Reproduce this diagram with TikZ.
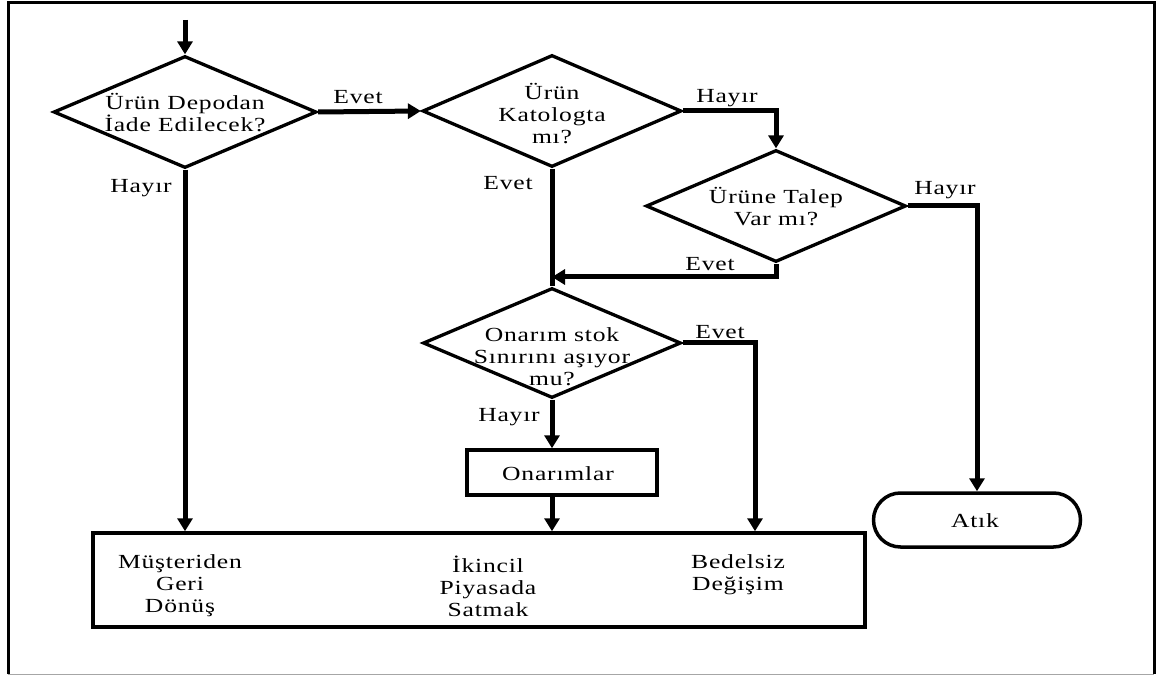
\documentclass[tikz,border=0pt]{standalone}
\usepackage{fontspec}
\setmainfont{Liberation Serif}[FakeStretch=1.28,LetterSpace=4]
\usetikzlibrary{arrows.meta,shapes.geometric}
\begin{document}
\begin{tikzpicture}[x=1pt,y=-1pt,
  every node/.style={font=\fontsize{20}{22}\selectfont},
  txt/.style={align=center,inner sep=0pt},
  dec/.style={draw,diamond,line width=3.3pt,inner sep=0pt,line join=miter},
  procbox/.style={draw,rectangle,line width=3.5pt,inner sep=0pt},
  flow/.style={line width=5pt,line join=miter,-{Triangle[length=13pt,width=15pt]}},
  link/.style={line width=5pt,line join=miter},
  frame/.style={line width=3pt,line join=miter}
]
\useasboundingbox (0,0) rectangle (1165,676);

% outer frame
\draw[frame] (8,674) -- (8,3) -- (1154,3) -- (1154,674);
\draw[gray!70,line width=1.2pt] (8,674.5) -- (1154,674.5);

% decisions
\node[dec,minimum width=263pt,minimum height=112pt] (d1) at (185,112) {};
\node[txt] (t1) at (185,113) {Ürün Depodan\\İade Edilecek?};

\node[dec,minimum width=259pt,minimum height=112pt] (d2) at (552,111) {};
\node[txt] (t2) at (552,114) {Ürün\\Katologta\\mı?};

\node[dec,minimum width=260pt,minimum height=112pt] (d3) at (776,206) {};
\node[txt] (t3) at (776,207) {Ürüne Talep\\Var mı?};

\node[dec,minimum width=258pt,minimum height=110pt] (d4) at (552,343) {};
\node[txt] (t4) at (552,357) {Onarım stok\\Sınırını aşıyor\\mu?};

% process boxes
\node[procbox,minimum width=190pt,minimum height=45pt] (onr) at (562,472.5) {};
\node[txt] (tonr) at (558,474) {Onarımlar};

\node[procbox,minimum width=772pt,minimum height=94pt] (box) at (479,580) {};
\node[txt] (b1) at (180,586) {Müşteriden\\Geri\\Dönüş};
\node[txt] (b2) at (488,586) {İkincil\\Piyasada\\Satmak};
\node[txt] (b3) at (738,575) {Bedelsiz\\Değişim};

% terminal
\node[draw,rectangle,rounded corners=27pt,line width=3.5pt,minimum width=207pt,minimum height=54pt,inner sep=0pt] (atik) at (977,520) {};
\node[txt] (tatik) at (975,521) {Atık};

% connectors
\coordinate (start) at (185,20);
\coordinate (jn) at (552,277);
\draw[flow] (start) -- (d1.north);
\draw[flow] (d1.east) -- (d2.west);
\draw[flow] (d1.south) -- (d1.south |- box.north);
\draw[flow] (d2.east) -| (d3.north);
\draw[link] (d2.south) -- (d4.north);
\draw[flow] (d3.south) |- (jn);
\draw[flow] (d3.east) -| (atik.north);
\draw[flow] (d4.east) -| (755,0 |- box.north);
\draw[flow] (d4.south) -- (d4.south |- onr.north);
\draw[flow] (onr.south -| d4.south) -- (d4.south |- box.north);

% branch labels
\node[txt] (l1) at (358,97) {Evet};
\node[txt] (l2) at (141,188) {Hayır};
\node[txt] (l3) at (727,98) {Hayır};
\node[txt] (l4) at (508,183) {Evet};
\node[txt] (l5) at (945,190) {Hayır};
\node[txt] (l6) at (710,264) {Evet};
\node[txt] (l7) at (720,332) {Evet};
\node[txt] (l8) at (509,417) {Hayır};
\end{tikzpicture}
\end{document}
